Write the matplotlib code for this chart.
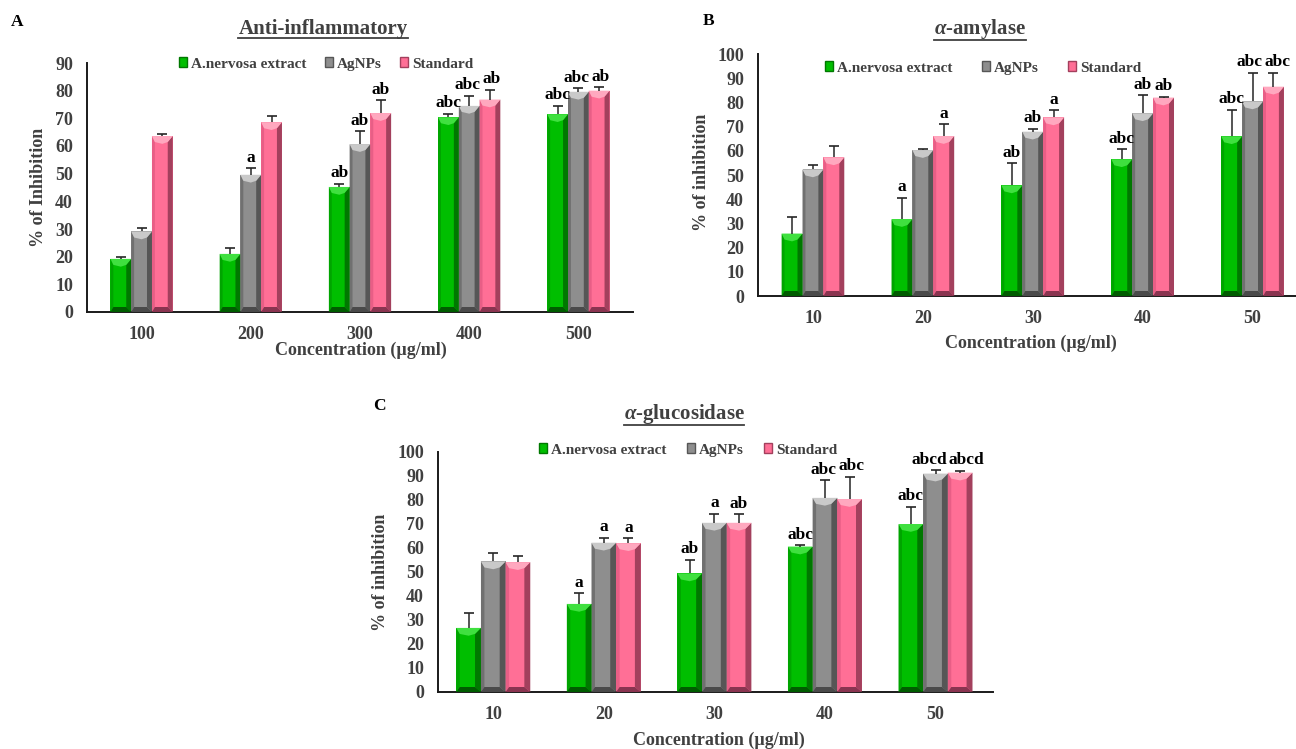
import matplotlib
matplotlib.use("Agg")
import matplotlib.pyplot as plt
from matplotlib.patches import Polygon, Patch
from matplotlib.lines import Line2D
import numpy as np

plt.rcParams["font.family"] = ["Liberation Serif", "DejaVu Serif"]
plt.rcParams["font.weight"] = "bold"
plt.rcParams["mathtext.fontset"] = "custom"
plt.rcParams["mathtext.it"] = "Liberation Serif:italic:bold"
plt.rcParams["mathtext.rm"] = "Liberation Serif:bold"

# -----------------------------
# Data
# -----------------------------

series_names = ["A.nervosa extract", "AgNPs", "Standard"]

# A: anti-inflammatory
anti_conc = ["100", "200", "300", "400", "500"]
anti_extract = [19.2, 21.0, 45.2, 70.4, 71.5]
anti_extract_sd = [0.7, 2.0, 1.2, 1.3, 3.0]
anti_agnps = [29.1, 49.6, 60.7, 74.5, 79.6]
anti_agnps_sd = [1.1, 2.3, 4.6, 3.5, 1.2]
anti_std = [63.6, 68.6, 71.9, 76.8, 80.0]
anti_std_sd = [0.6, 2.3, 4.6, 3.4, 1.2]
anti_extract_sig = ["", "", "ab", "abc", "abc"]
anti_agnps_sig = ["", "a", "ab", "abc", "abc"]
anti_std_sig = ["", "", "ab", "ab", "ab"]

# B: alpha-amylase
amy_conc = ["10", "20", "30", "40", "50"]
amy_extract = [25.8, 31.8, 45.7, 56.5, 66.0]
amy_extract_sd = [7.0, 8.8, 9.1, 4.1, 11.0]
amy_agnps = [52.3, 60.3, 67.9, 75.5, 80.4]
amy_agnps_sd = [1.8, 0.4, 1.0, 7.4, 11.7]
amy_std = [57.3, 66.1, 73.8, 82.0, 86.5]
amy_std_sd = [4.8, 4.8, 2.9, 0.4, 5.6]
amy_extract_sig = ["", "a", "ab", "abc", "abc"]
amy_agnps_sig = ["", "", "ab", "ab", "abc"]
amy_std_sig = ["", "a", "a", "ab", "abc"]

# C: alpha-glucosidase
glu_conc = ["10", "20", "30", "40", "50"]
glu_extract = [26.7, 36.7, 49.4, 60.6, 70.0]
glu_extract_sd = [6.4, 4.4, 5.8, 0.5, 7.2]
glu_agnps = [54.4, 62.2, 70.5, 80.9, 91.0]
glu_agnps_sd = [3.6, 2.1, 3.8, 7.3, 1.3]
glu_std = [54.1, 62.0, 70.5, 80.4, 91.4]
glu_std_sd = [2.7, 2.0, 3.5, 9.1, 0.7]
glu_extract_sig = ["", "a", "ab", "abc", "abc"]
glu_agnps_sig = ["", "a", "a", "abc", "abcd"]
glu_std_sig = ["", "a", "ab", "abc", "abcd"]

# -----------------------------
# Styling
# -----------------------------

W, H = 1296, 749
TXT = "#404040"

# base, left edge, right edge, top bevel, bottom bevel
PALETTES = [
    ("#00BE00", "#00A400", "#007800", "#3FE03F", "#005C00"),
    ("#8E8E8E", "#707070", "#565656", "#C9C9C9", "#4A4A4A"),
    ("#FF6F96", "#E85E86", "#A3405D", "#FFA8BF", "#8A3450"),
]


def px_box(left, bottom, right, top):
    # pixel box (y measured from top) -> figure fraction rect
    return [left / W, 1 - bottom / H, (right - left) / W, (bottom - top) / H]


def bevel(ax, patch, cols, dy):
    x0 = patch.get_x()
    w = patch.get_width()
    h = patch.get_height()
    sl = w * 0.14
    sr = w * 0.24
    ty = min(dy * 6, h * 0.3)
    by = min(dy * 5, h * 0.3)
    _, left, right, top, bottom = cols
    shapes = [
        ([(x0, 0), (x0 + sl, by), (x0 + sl, h - ty), (x0, h)], left),
        ([(x0 + w, 0), (x0 + w - sr, by), (x0 + w - sr, h - ty), (x0 + w, h)], right),
        ([(x0, h), (x0 + w, h), (x0 + w - sr, h - ty), (x0 + w / 2, h - ty * 1.3),
          (x0 + sl, h - ty)], top),
        ([(x0, 0), (x0 + w, 0), (x0 + w - sr, by), (x0 + sl, by)], bottom),
    ]
    for pts, c in shapes:
        ax.add_patch(Polygon(pts, closed=True, facecolor=c, edgecolor="none", zorder=3))


def draw_panel(ax, conc, values, errors, sigs, ymax, xmax, width):
    x = np.arange(len(conc))
    ax.set_xlim(-0.5, xmax)
    ax.set_ylim(0, ymax)
    ax_h = ax.get_position().height * H
    dy = ymax / ax_h

    groups = [[] for _ in x]
    for i in range(3):
        pos = x + (i - 1) * width
        bars = ax.bar(pos, values[i], width, color=PALETTES[i][0], zorder=2)
        for b in bars:
            bevel(ax, b, PALETTES[i], dy)
        tops = np.array(values[i]) + np.array(errors[i])
        ax.vlines(pos, values[i], tops, color="#262626", lw=1.1, zorder=4)
        ax.plot(pos, tops, ls="none", marker="_", ms=7, mew=1.2, color="#262626", zorder=4)
        for g, (xp, t, s) in enumerate(zip(pos, tops, sigs[i])):
            if s:
                ann = ax.annotate(s, (xp, t), xytext=(0, 2), textcoords="offset points",
                                  ha="center", va="bottom", fontsize=12.5,
                                  fontweight="bold", color="black", zorder=5)
                groups[g].append(ann)

    ax.set_xticks(x)
    ax.set_xticklabels(conc)
    ax.set_yticks(np.arange(0, ymax + 1, 10))
    ax.tick_params(length=0, labelsize=13, labelcolor=TXT)
    ax.tick_params(axis="x", pad=10)
    ax.tick_params(axis="y", pad=10)
    for s in ["top", "right"]:
        ax.spines[s].set_visible(False)
    for s in ["left", "bottom"]:
        ax.spines[s].set_color("#1A1A1A")
        ax.spines[s].set_linewidth(1.4)
    return groups


def spread_labels(groups, renderer):
    # push neighbouring significance letters apart when they collide
    for labels in groups:
        for a, b in zip(labels, labels[1:]):
            ba = a.get_window_extent(renderer)
            bb = b.get_window_extent(renderer)
            if abs(ba.y0 - bb.y0) > ba.height:
                continue
            overlap = ba.x1 - bb.x0 + 2
            if overlap > 0:
                shift = overlap / 2 * 72 / 100
                a.xyann = (a.xyann[0] - shift, a.xyann[1])
                b.xyann = (b.xyann[0] + shift, b.xyann[1])


fig = plt.figure(figsize=(W / 100, H / 100), dpi=100)

ax_a = fig.add_axes(px_box(87, 312, 633, 63))
ax_b = fig.add_axes(px_box(758, 296, 1296, 54))
ax_c = fig.add_axes(px_box(438, 692, 993, 452))

groups_a = draw_panel(ax_a, anti_conc,
                      [anti_extract, anti_agnps, anti_std],
                      [anti_extract_sd, anti_agnps_sd, anti_std_sd],
                      [anti_extract_sig, anti_agnps_sig, anti_std_sig],
                      90, 4.5, 0.19)
groups_b = draw_panel(ax_b, amy_conc,
                      [amy_extract, amy_agnps, amy_std],
                      [amy_extract_sd, amy_agnps_sd, amy_std_sd],
                      [amy_extract_sig, amy_agnps_sig, amy_std_sig],
                      100, 4.395, 0.19)
groups_c = draw_panel(ax_c, glu_conc,
                      [glu_extract, glu_agnps, glu_std],
                      [glu_extract_sd, glu_agnps_sd, glu_std_sd],
                      [glu_extract_sig, glu_agnps_sig, glu_std_sig],
                      100, 4.52, 0.223)

# axis labels
label_kw = dict(fontsize=13, fontweight="bold", color=TXT)
ax_a.set_ylabel("% of Inhibition", **label_kw)
ax_b.set_ylabel("% of inhibition", **label_kw)
ax_c.set_ylabel("% of inhibition", **label_kw)
for ax in (ax_a, ax_b, ax_c):
    ax.set_xlabel("Concentration (µg/ml)", **label_kw)
    ax.xaxis.label.set_va("center")
    ax.yaxis.label.set_va("center")
ax_a.xaxis.set_label_coords(0.502, -0.153)
ax_b.xaxis.set_label_coords(0.507, -0.194)
ax_c.xaxis.set_label_coords(0.506, -0.200)
ax_a.yaxis.set_label_coords(-0.088, 0.50)
ax_b.yaxis.set_label_coords(-0.105, 0.51)
ax_c.yaxis.set_label_coords(-0.103, 0.50)

# legends
handles = [Patch(facecolor=p[0], edgecolor=p[2], lw=1.0) for p in PALETTES]
for cx, cy, gap in [(326, 64, 1.2), (983, 68, 1.9), (688, 450, 1.3)]:
    fig.legend(handles, series_names, loc="center", ncol=3,
               bbox_to_anchor=(cx / W, 1 - cy / H), frameon=False,
               handlelength=0.55, handleheight=0.55,
               handletextpad=0.25, columnspacing=gap, labelcolor=TXT,
               prop={"weight": "bold", "size": 11})

# panel letters
for letter, lx, ly in [("A", 17, 22), ("B", 709, 21), ("C", 379, 406)]:
    fig.text(lx / W, 1 - ly / H, letter, fontsize=12.5, fontweight="bold",
             color="black", ha="center", va="center")

# underlined titles
titles = []
for txt, cx, cy in [("Anti-inflammatory", 323, 29),
                    (r"$\alpha$-amylase", 980, 29),
                    (r"$\alpha$-glucosidase", 684, 414)]:
    t = fig.text(cx / W, 1 - cy / H, txt, fontsize=15, fontweight="bold",
                 color=TXT, ha="center", va="center")
    titles.append(t)

fig.canvas.draw()
renderer = fig.canvas.get_renderer()
for g in (groups_a, groups_b, groups_c):
    spread_labels(g, renderer)
for t in titles:
    bb = t.get_window_extent(renderer)
    y = (bb.y0 + 1) / H
    fig.add_artist(Line2D([bb.x0 / W, bb.x1 / W], [y, y], color=TXT, lw=1.3))

fig.savefig("out.png", dpi=100, facecolor="white")
